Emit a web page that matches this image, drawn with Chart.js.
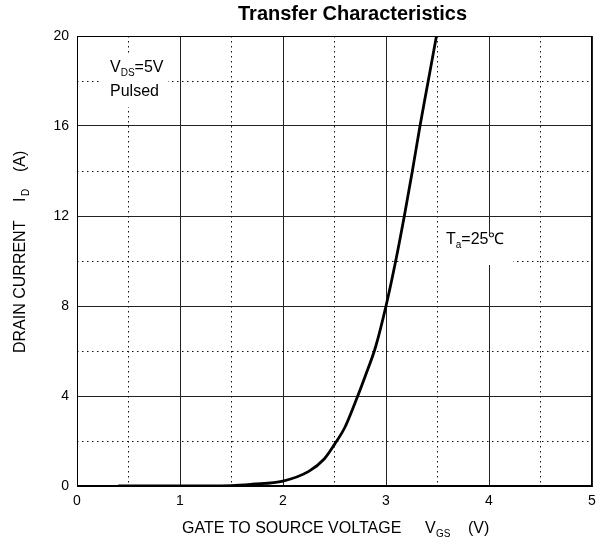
<!DOCTYPE html>
<html>
<head>
<meta charset="utf-8">
<script src="https://cdn.jsdelivr.net/npm/chart.js@4"></script>
<style>
  body { margin: 0; background: #fff; }
  #wrap { width: 596px; height: 539px; position: relative; }
</style>
</head>
<body>
<div id="wrap"><canvas id="transferChart"></canvas></div>
<script>
// gate-source voltage (V) and drain current (A)
const vgs = [0.4, 1.0, 1.5, 1.7, 2.0, 2.25, 2.4, 2.5, 2.6, 2.7, 2.8, 2.9, 3.0, 3.094, 3.178, 3.256, 3.33, 3.41, 3.49];
const drainCurrent = [0, 0, 0.02, 0.08, 0.22, 0.65, 1.2, 1.85, 2.6, 3.7, 4.9, 6.2, 8.0, 10, 12, 14, 16, 18, 20];

const xTicks = [0, 1, 2, 3, 4, 5];
const xMinorTicks = [0.5, 1.5, 2.5, 3.5, 4.5];
const yTicks = [0, 4, 8, 12, 16, 20];
const yMinorTicks = [2, 6, 10, 14, 18];

const FONT = 'Arial, "Liberation Sans", Helvetica, sans-serif';

const points = vgs.map((v, i) => ({ x: v, y: drainCurrent[i] }));

// text with a subscript part, left aligned at x
function subText(ctx, parts, x, y) {
  parts.forEach(p => {
    ctx.font = p.sub ? '10px ' + FONT : '16px ' + FONT;
    ctx.fillText(p.t, x, y + (p.sub ? 4 : 0));
    x += ctx.measureText(p.t).width;
  });
}

const overlay = {
  id: 'overlay',
  afterDraw(chart) {
    const ctx = chart.ctx;
    const a = chart.chartArea;
    ctx.save();
    ctx.strokeStyle = '#000';
    ctx.lineWidth = 1;
    ctx.strokeRect(a.left + 0.5, a.top + 0.5, a.right - a.left - 1, a.bottom - a.top - 1);

    ctx.fillStyle = '#000';
    ctx.textBaseline = 'alphabetic';
    ctx.textAlign = 'left';

    // title
    ctx.font = 'bold 20px ' + FONT;
    ctx.fillText('Transfer Characteristics', 238, 20);

    // annotation boxes
    ctx.fillStyle = '#fff';
    ctx.fillRect(100, 55, 68, 52);
    ctx.fillRect(438, 233, 75, 32);
    ctx.fillStyle = '#000';
    subText(ctx, [{ t: 'V' }, { t: 'DS', sub: true }, { t: '=5V' }], 110, 72);
    ctx.font = '16px ' + FONT;
    ctx.fillText('Pulsed', 110, 96);
    subText(ctx, [{ t: 'T' }, { t: 'a', sub: true }, { t: '=25\u2103' }], 446, 244);

    // x axis title
    ctx.font = '16px ' + FONT;
    ctx.fillText('GATE TO SOURCE VOLTAGE', 182, 533);
    ctx.fillText('V', 425, 533);
    ctx.font = '10px ' + FONT;
    ctx.fillText('GS', 436, 537);
    ctx.font = '16px ' + FONT;
    ctx.fillText('(V)', 468, 533);

    // y axis title
    ctx.translate(25, 353);
    ctx.rotate(-Math.PI / 2);
    ctx.fillText('DRAIN CURRENT', 0, 0);
    ctx.fillText('I', 151, 0);
    ctx.font = '10px ' + FONT;
    ctx.fillText('D', 157, 4);
    ctx.font = '16px ' + FONT;
    ctx.fillText('(A)', 181, 0);
    ctx.restore();
  }
};

const solidGrid = { color: '#222', lineWidth: 1, drawTicks: false };
const dottedGrid = { color: '#111', lineWidth: 1, drawTicks: false };

new Chart(document.getElementById('transferChart'), {
  type: 'scatter',
  data: {
    datasets: [{
      data: points,
      showLine: true,
      borderColor: '#000',
      borderWidth: 2.8,
      pointRadius: 0,
      cubicInterpolationMode: 'monotone',
      xAxisID: 'x',
      yAxisID: 'y'
    }]
  },
  options: {
    responsive: true,
    maintainAspectRatio: false,
    animation: false,
    layout: { padding: { top: 36, right: 4, left: 0, bottom: 0 } },
    plugins: { legend: { display: false }, tooltip: { enabled: false }, title: { display: false } },
    scales: {
      x: {
        type: 'linear', position: 'bottom', min: 0, max: 5,
        afterBuildTicks: s => { s.ticks = xTicks.map(v => ({ value: v })); },
        afterFit: s => { s.height = 53; s.paddingLeft = 0; s.paddingRight = 0; },
        ticks: { color: '#000', padding: 7, font: { size: 14, family: FONT } },
        grid: solidGrid,
        border: { display: true, color: '#000', width: 1 }
      },
      y: {
        type: 'linear', position: 'left', min: 0, max: 20,
        afterBuildTicks: s => { s.ticks = yTicks.map(v => ({ value: v })); },
        afterFit: s => { s.width = 77; s.paddingTop = 0; s.paddingBottom = 0; },
        ticks: { color: '#000', padding: 8, font: { size: 14, family: FONT } },
        grid: solidGrid,
        border: { display: true, color: '#000', width: 1 }
      },
      xMinor: {
        type: 'linear', position: 'bottom', min: 0, max: 5,
        afterBuildTicks: s => { s.ticks = xMinorTicks.map(v => ({ value: v })); },
        afterFit: s => { s.height = 0; s.paddingLeft = 0; s.paddingRight = 0; },
        ticks: { display: false },
        grid: dottedGrid,
        border: { display: false, dash: [1.5, 3.5] }
      },
      yMinor: {
        type: 'linear', position: 'left', min: 0, max: 20,
        afterBuildTicks: s => { s.ticks = yMinorTicks.map(v => ({ value: v })); },
        afterFit: s => { s.width = 0; s.paddingTop = 0; s.paddingBottom = 0; },
        ticks: { display: false },
        grid: dottedGrid,
        border: { display: false, dash: [1.5, 3.5] }
      }
    }
  },
  plugins: [overlay]
});
</script>
</body>
</html>
